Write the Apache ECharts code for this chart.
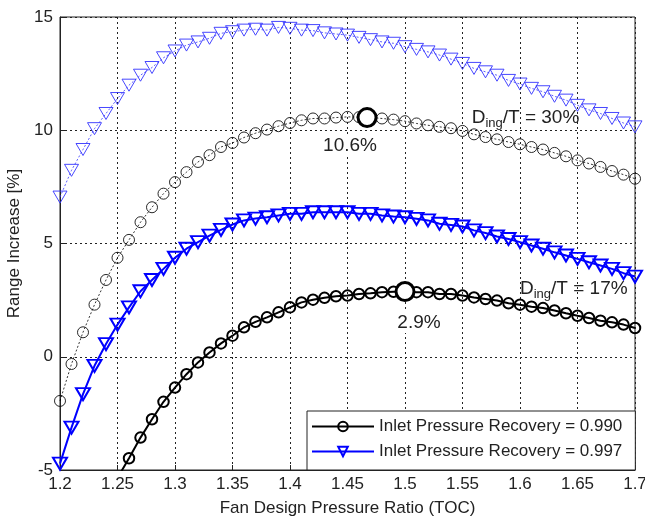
<!DOCTYPE html>
<html>
<head>
<meta charset="utf-8">
<script src="https://cdn.jsdelivr.net/npm/echarts@6/dist/echarts.min.js"></script>
<style>
  html, body { margin: 0; padding: 0; background: #fff; }
  #chart { width: 645px; height: 518px; }
</style>
</head>
<body>
<div id="chart"></div>
<script>
// fan pressure ratio, one point per 0.01
const ratios = [1.20, 1.21, 1.22, 1.23, 1.24, 1.25, 1.26, 1.27, 1.28, 1.29,
  1.30, 1.31, 1.32, 1.33, 1.34, 1.35, 1.36, 1.37, 1.38, 1.39,
  1.40, 1.41, 1.42, 1.43, 1.44, 1.45, 1.46, 1.47, 1.48, 1.49,
  1.50, 1.51, 1.52, 1.53, 1.54, 1.55, 1.56, 1.57, 1.58, 1.59,
  1.60, 1.61, 1.62, 1.63, 1.64, 1.65, 1.66, 1.67, 1.68, 1.69, 1.70]

// D_ing/T = 17%  (thick lines)
const rec990_17 = [null, null, null, null, null, -5.35, -4.48, -3.57, -2.76, -1.99,
  -1.36, -0.77, -0.25, 0.19, 0.59, 0.93, 1.30, 1.54, 1.74, 1.96,
  2.18, 2.40, 2.52, 2.60, 2.67, 2.70, 2.77, 2.80, 2.85, 2.87,
  2.88, 2.85, 2.85, 2.77, 2.77, 2.70, 2.62, 2.55, 2.48, 2.36,
  2.30, 2.21, 2.15, 2.04, 1.92, 1.81, 1.71, 1.59, 1.52, 1.42, 1.27]
const rec997_17 = [-4.72, -3.13, -1.65, -0.40, 0.56, 1.42, 2.18, 2.89, 3.39, 3.88,
  4.37, 4.77, 5.06, 5.35, 5.60, 5.84, 6.02, 6.10, 6.16, 6.24,
  6.31, 6.31, 6.38, 6.38, 6.38, 6.38, 6.31, 6.31, 6.24, 6.19,
  6.16, 6.09, 6.02, 5.87, 5.82, 5.75, 5.58, 5.46, 5.31, 5.20,
  5.06, 4.91, 4.77, 4.61, 4.47, 4.32, 4.17, 4.03, 3.88, 3.69, 3.54]

// D_ing/T = 30%  (thin dotted lines)
const rec990_30 = [-1.95, -0.32, 1.08, 2.30, 3.39, 4.37, 5.16, 5.94, 6.60, 7.20,
  7.71, 8.15, 8.60, 8.90, 9.26, 9.44, 9.68, 9.87, 10.03, 10.18,
  10.32, 10.44, 10.52, 10.52, 10.56, 10.59, 10.58, 10.56, 10.52, 10.47,
  10.40, 10.30, 10.22, 10.15, 10.09, 9.97, 9.82, 9.70, 9.60, 9.48,
  9.38, 9.26, 9.15, 9.00, 8.85, 8.67, 8.53, 8.38, 8.20, 8.04, 7.86]
const rec997_30 = [7.05, 8.23, 9.15, 10.07, 10.74, 11.40, 11.99, 12.43, 12.77, 13.20,
  13.50, 13.76, 13.90, 14.06, 14.28, 14.35, 14.42, 14.46, 14.42, 14.54,
  14.50, 14.42, 14.40, 14.30, 14.25, 14.20, 14.10, 14.00, 13.90, 13.84,
  13.69, 13.57, 13.46, 13.32, 13.14, 12.95, 12.73, 12.58, 12.43, 12.20,
  12.04, 11.85, 11.70, 11.50, 11.33, 11.10, 10.90, 10.74, 10.52, 10.32, 10.15]

// maxima of the 0.990 curves
const peakX = [1.467, 1.50]
const peakY = [10.56, 2.88]
const peakText = ['10.6%', '2.9%']

// D_ing/T notes
const noteX = [1.558, 1.600]
const noteY = [10.55, 3.0]
const noteText = ['30%', '17%']

const legendNames = ['Inlet Pressure Recovery = 0.990', 'Inlet Pressure Recovery = 0.997']

function pairs(ys) {
  return ratios.map((x, i) => [x, ys[i]])
}

const FONT = 'Liberation Sans, Arial, sans-serif'
const TXT = '#222'

let chart = echarts.init(document.getElementById('chart'))

chart.setOption({
  animation: false,
  grid: {
    left: 60, right: 10, top: 17, bottom: 48,
    outerBoundsMode: 'none',
    show: true, borderColor: '#222', borderWidth: 1
  },
  legend: {
    data: legendNames,
    orient: 'vertical',
    left: 307, top: 411,
    itemWidth: 62, itemHeight: 12, itemGap: 8,
    padding: [7, 13, 10, 4],
    borderColor: '#222', borderWidth: 1,
    backgroundColor: '#fff',
    textStyle: { fontFamily: FONT, fontSize: 17, color: TXT }
  },
  xAxis: {
    type: 'value',
    min: 1.2, max: 1.7, interval: 0.05,
    name: 'Fan Design Pressure Ratio (TOC)',
    nameLocation: 'middle', nameGap: 30,
    nameTextStyle: { fontFamily: FONT, fontSize: 17, color: TXT },
    axisLine: { onZero: false, lineStyle: { color: '#222' } },
    axisTick: { inside: true, length: 5, lineStyle: { color: '#222' } },
    axisLabel: {
      fontFamily: FONT, fontSize: 17, color: TXT, margin: 6,
      formatter: v => String(+v.toFixed(2))
    },
    splitLine: { show: true, lineStyle: { color: '#222', type: [2, 3], width: 1 } }
  },
  yAxis: {
    type: 'value',
    min: -5, max: 15, interval: 5,
    name: 'Range Increase [%]',
    nameLocation: 'middle', nameGap: 30,
    nameTextStyle: { fontFamily: FONT, fontSize: 17, color: TXT },
    axisLine: { show: true, onZero: false, lineStyle: { color: '#222' } },
    axisTick: { show: true, inside: true, length: 5, lineStyle: { color: '#222' } },
    axisLabel: { fontFamily: FONT, fontSize: 17, color: TXT, margin: 7 },
    splitLine: { show: true, lineStyle: { color: '#222', type: [2, 3], width: 1 } }
  },
  series: [
    {
      name: legendNames[0],
      type: 'line',
      data: pairs(rec990_17),
      symbol: 'circle', symbolSize: 10.5,
      lineStyle: { color: '#000', width: 2 },
      itemStyle: { color: 'rgba(255,255,255,0)', borderColor: '#000', borderWidth: 2 },
      z: 4
    },
    {
      name: legendNames[1],
      type: 'line',
      data: pairs(rec997_17),
      symbol: 'triangle', symbolRotate: 180, symbolSize: [14, 12],
      lineStyle: { color: '#0000ff', width: 2 },
      itemStyle: { color: 'rgba(255,255,255,0)', borderColor: '#0000ff', borderWidth: 2 },
      z: 4
    },
    {
      name: '0.990 / 30%',
      type: 'line',
      data: pairs(rec990_30),
      symbol: 'circle', symbolSize: 11,
      lineStyle: { color: '#000', width: 0.8, type: [2, 2] },
      itemStyle: { color: 'rgba(255,255,255,0)', borderColor: '#111', borderWidth: 0.9 },
      z: 3
    },
    {
      name: '0.997 / 30%',
      type: 'line',
      data: pairs(rec997_30),
      symbol: 'triangle', symbolRotate: 180, symbolSize: [14, 12],
      lineStyle: { color: '#3333ff', width: 0.8, type: [2, 2] },
      itemStyle: { color: 'rgba(255,255,255,0)', borderColor: '#3333ff', borderWidth: 0.9 },
      z: 3
    },
    {
      name: 'peaks',
      type: 'scatter',
      silent: true,
      symbol: 'circle', symbolSize: 18,
      itemStyle: { color: '#fff', borderColor: '#000', borderWidth: 3, opacity: 1 },
      data: peakX.map((x, i) => ({
        value: [x, peakY[i]],
        label: { offset: [i === 0 ? -17 : 14, 0], distance: i === 0 ? 7 : 10 }
      })),
      label: {
        show: true, position: 'bottom',
        formatter: p => peakText[p.dataIndex],
        fontFamily: FONT, fontSize: 19, color: TXT,
        backgroundColor: '#fff', padding: [1, 13, 1, 13]
      },
      z: 6
    },
    {
      name: 'notes',
      type: 'scatter',
      silent: true,
      symbolSize: 0,
      itemStyle: { opacity: 1 },
      data: noteX.map((x, i) => [x, noteY[i]]),
      label: {
        show: true, position: 'right', distance: 0,
        formatter: p => '{d|D}{s|ing}{d|/T = ' + noteText[p.dataIndex] + '}',
        rich: {
          d: { fontFamily: FONT, fontSize: 19, color: TXT },
          s: { fontFamily: FONT, fontSize: 13, color: TXT, padding: [12, 0, 0, 0] }
        }
      },
      z: 5
    }
  ]
})
</script>
</body>
</html>
